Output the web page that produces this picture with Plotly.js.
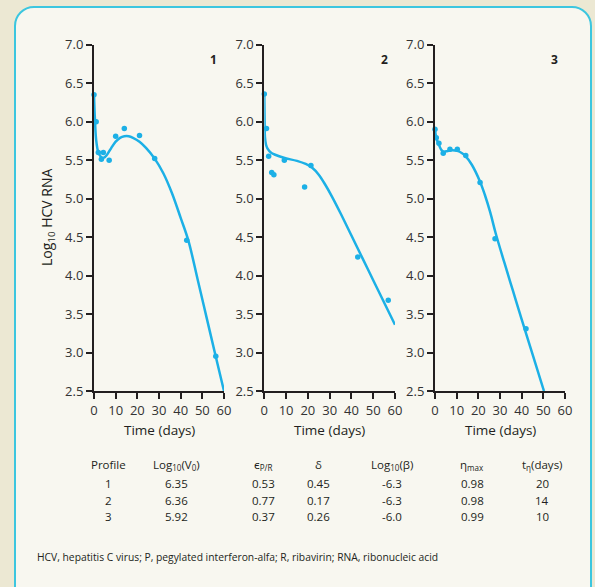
<!DOCTYPE html>
<html>
<head>
<meta charset="utf-8">
<script src="https://cdn.plot.ly/plotly-3.0.1.min.js"></script>
<style>
  html, body { margin:0; padding:0; width:595px; height:587px; overflow:hidden; background:#ece8d3; }
  #frame { position:absolute; left:14px; top:6px; width:574px; height:600px; border:2px solid #3cc6df; border-radius:20px; background:#f8f7f0; }
  #chart { position:absolute; left:0; top:0; width:595px; height:587px; }
</style>
</head>
<body>
<div id="frame"></div>
<div id="chart"></div>
<script>
// ---- Data: observed points ----
const p1Days = [0, 1, 2, 3.4, 4.3, 7, 10, 14, 21, 28, 42.8, 56.2];
const p1Obs  = [6.35, 6.0, 5.6, 5.51, 5.6, 5.5, 5.81, 5.91, 5.82, 5.52, 4.46, 2.95];
const p2Days = [0, 1, 2, 3.4, 4.4, 9.2, 18.5, 21.4, 42.9, 56.9];
const p2Obs  = [6.36, 5.91, 5.55, 5.34, 5.31, 5.5, 5.15, 5.43, 4.24, 3.68];
const p3Days = [0, 0.6, 1.8, 3.8, 6.9, 10.3, 14.2, 20.8, 27.7, 42];
const p3Obs  = [5.9, 5.79, 5.72, 5.59, 5.64, 5.64, 5.56, 5.21, 4.48, 3.31];

// ---- Data: model fit curves ----
const p1FitDays = [0, 0.4, 1, 2, 3, 4.5, 6, 8, 10, 12, 14, 16, 18, 21, 24, 28, 32, 36, 40, 43.5, 48, 52, 56, 60];
const p1Fit     = [6.35, 6.05, 5.76, 5.6, 5.55, 5.53, 5.57, 5.66, 5.74, 5.79, 5.81, 5.81, 5.79, 5.74, 5.66, 5.52, 5.33, 5.07, 4.75, 4.46, 3.93, 3.45, 2.97, 2.5];
const p2FitDays = [0, 0.15, 0.3, 0.8, 1.5, 3, 5, 9, 15, 19, 22, 25, 28, 31, 35, 40, 45, 50, 55, 60];
const p2Fit     = [6.36, 6.0, 5.8, 5.7, 5.65, 5.6, 5.57, 5.53, 5.49, 5.45, 5.4, 5.31, 5.18, 5.03, 4.81, 4.52, 4.23, 3.94, 3.65, 3.36];
const p3FitDays = [0, 0.6, 1.8, 3, 4, 6, 8, 10.3, 12.5, 14.2, 17, 20.8, 23, 25.5, 28, 32, 36, 40, 45, 50.3];
const p3Fit     = [5.9, 5.79, 5.7, 5.63, 5.61, 5.62, 5.63, 5.62, 5.59, 5.55, 5.44, 5.22, 5.05, 4.82, 4.55, 4.17, 3.8, 3.43, 2.98, 2.5];

// ---- Table data ----
const tblProfile = ["1", "2", "3"];
const tblLogV0   = ["6.35", "6.36", "5.92"];
const tblEps     = ["0.53", "0.77", "0.37"];
const tblDelta   = ["0.45", "0.17", "0.26"];
const tblLogBeta = ["-6.3", "-6.3", "-6.0"];
const tblEtaMax  = ["0.98", "0.98", "0.99"];
const tblTEta    = ["20", "14", "10"];
const tblHeaders = ["Profile", "Log<sub>10</sub>(V<sub>0</sub>)", "ϵ<sub>P/R</sub>", "δ", "Log<sub>10</sub>(β)", "η<sub>max</sub>", "t<sub>η</sub>(days)"];
const panelLabels = ["1", "2", "3"];
const xTicks = [0, 10, 20, 30, 40, 50, 60];
const yTicks = [2.5, 3.0, 3.5, 4.0, 4.5, 5.0, 5.5, 6.0, 6.5, 7.0];

const W = 595, H = 587;
const px = x => x / W;
const py = y => 1 - y / H;
const BLUE = '#1cb0e6';
const FONT = 'Open Sans, Noto Sans, sans-serif';
const TXT = '#231f20';

const panels = [
  {days: p1Days, obs: p1Obs, fd: p1FitDays, fv: p1Fit, x0: 94, x1: 224},
  {days: p2Days, obs: p2Obs, fd: p2FitDays, fv: p2Fit, x0: 264.3, x1: 395},
  {days: p3Days, obs: p3Obs, fd: p3FitDays, fv: p3Fit, x0: 435, x1: 565}
];
const yTop = 44.7, yBot = 391;

const traces = [];
const layout = {
  width: W, height: H,
  margin: {l: 0, r: 0, t: 0, b: 0, autoexpand: false},
  paper_bgcolor: 'rgba(0,0,0,0)',
  plot_bgcolor: 'rgba(0,0,0,0)',
  showlegend: false,
  font: {family: FONT, color: TXT},
  annotations: []
};

panels.forEach((p, i) => {
  const n = i === 0 ? '' : String(i + 1);
  const xa = 'x' + n, ya = 'y' + n;
  traces.push({x: p.fd, y: p.fv, xaxis: xa, yaxis: ya, mode: 'lines',
    line: {color: BLUE, width: 2.5, shape: 'spline', smoothing: 1.0}, cliponaxis: false, hoverinfo: 'skip'});
  traces.push({x: p.days, y: p.obs, xaxis: xa, yaxis: ya, mode: 'markers',
    marker: {color: BLUE, size: 5.5}, cliponaxis: false});
  const common = {showgrid: false, zeroline: false, showline: true, linecolor: TXT, linewidth: 2,
    ticks: 'outside', ticklen: 6, tickwidth: 2, tickcolor: TXT,
    tickfont: {family: FONT, size: 13, color: '#333'}, fixedrange: true};
  layout['xaxis' + n] = Object.assign({}, common, {
    domain: [px(p.x0), px(p.x1)], range: [0, 60], tickvals: xTicks, anchor: ya});
  layout['yaxis' + n] = Object.assign({}, common, {
    domain: [py(yBot), py(yTop)], range: [2.5, 7.0], tickvals: yTicks, tickformat: '.1f', anchor: xa});
  layout.annotations.push({text: 'Time (days)', x: px((p.x0 + p.x1) / 2), y: py(430), xref: 'paper', yref: 'paper',
    showarrow: false, xanchor: 'center', yanchor: 'middle', font: {size: 13.5, color: TXT}});
  layout.annotations.push({text: '<b>' + panelLabels[i] + '</b>', x: px(p.x1 - 11), y: py(60), xref: 'paper', yref: 'paper',
    showarrow: false, xanchor: 'center', yanchor: 'middle', font: {size: 12, color: TXT}});
});

layout.annotations.push({text: 'Log<sub>10</sub> HCV RNA', textangle: -90, x: px(48), y: py(217), xref: 'paper', yref: 'paper',
  showarrow: false, xanchor: 'center', yanchor: 'middle', font: {size: 14, color: TXT}});

// Table
const colX = [108, 176, 263, 318, 392, 472, 542];
const rowY = [483.5, 500, 516.5];
const cols = [tblProfile, tblLogV0, tblEps, tblDelta, tblLogBeta, tblEtaMax, tblTEta];
tblHeaders.forEach((h, c) => {
  layout.annotations.push({text: h, x: px(colX[c]), y: py(465), xref: 'paper', yref: 'paper',
    showarrow: false, xanchor: 'center', yanchor: 'middle', font: {size: 11.5, color: TXT}});
  cols[c].forEach((v, r) => {
    layout.annotations.push({text: v, x: px(colX[c]), y: py(rowY[r]), xref: 'paper', yref: 'paper',
      showarrow: false, xanchor: 'center', yanchor: 'middle', font: {size: 11.5, color: TXT}});
  });
});

layout.annotations.push({text: 'HCV, hepatitis C virus; P, pegylated interferon-alfa; R, ribavirin; RNA, ribonucleic acid',
  x: px(35), y: py(557), xref: 'paper', yref: 'paper', showarrow: false, xanchor: 'left', yanchor: 'middle',
  font: {size: 10.3, color: TXT}});

Plotly.newPlot('chart', traces, layout, {staticPlot: true, displayModeBar: false});
</script>
</body>
</html>
